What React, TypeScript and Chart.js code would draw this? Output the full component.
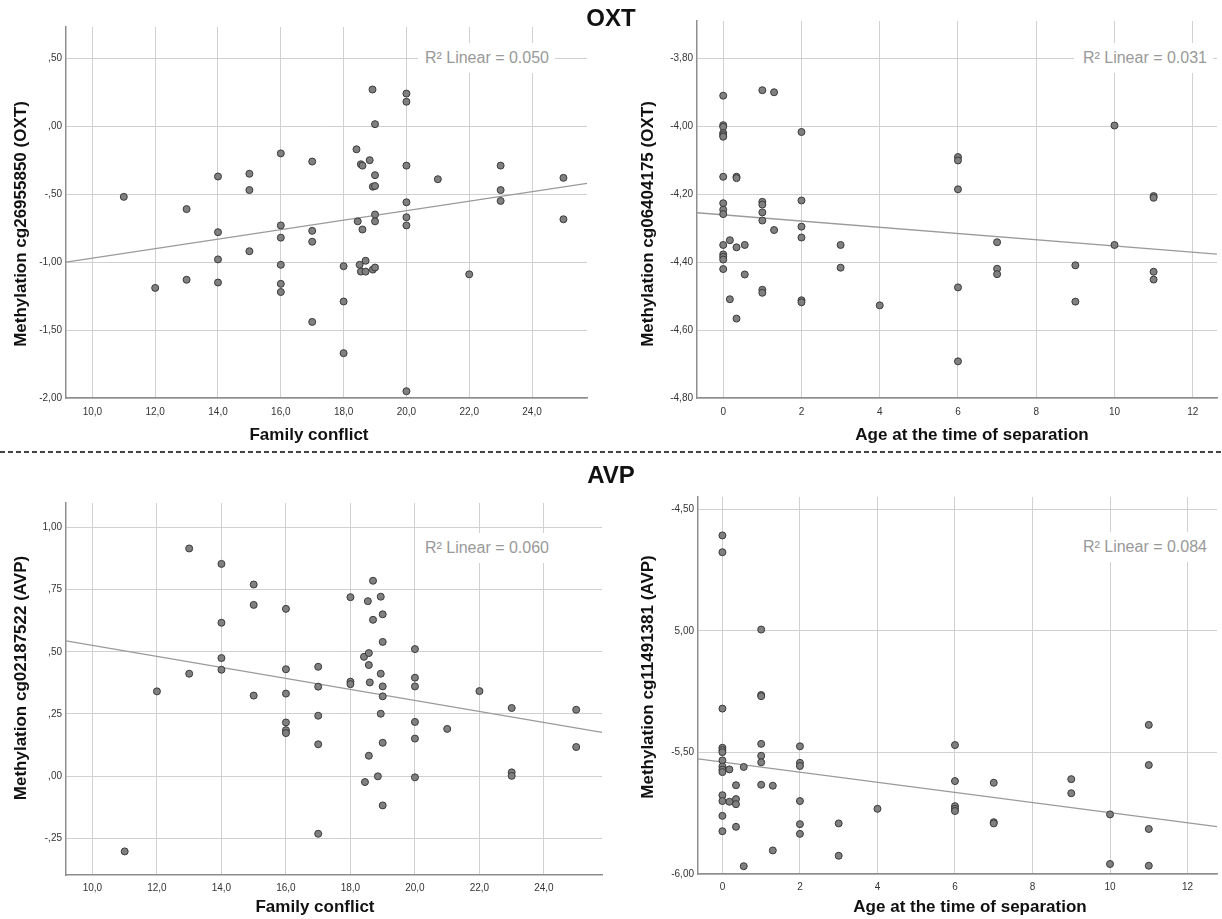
import React, { useEffect, useRef } from 'react';
import { Chart, registerables } from 'chart.js';

Chart.register(...registerables);

// ---------- Tick values and labels ----------
const conflictTicks = [10, 12, 14, 16, 18, 20, 22, 24];
const conflictTickLabels = ['10,0', '12,0', '14,0', '16,0', '18,0', '20,0', '22,0', '24,0'];
const ageTicks = [0, 2, 4, 6, 8, 10, 12];
const ageTickLabels = ['0', '2', '4', '6', '8', '10', '12'];

const oxtConflictYTicks = [-2, -1.5, -1, -0.5, 0, 0.5];
const oxtConflictYLabels = ['-2,00', '-1,50', '-1,00', '-,50', ',00', ',50'];
const oxtAgeYTicks = [-4.8, -4.6, -4.4, -4.2, -4.0, -3.8];
const oxtAgeYLabels = ['-4,80', '-4,60', '-4,40', '-4,20', '-4,00', '-3,80'];
const avpConflictYTicks = [-0.25, 0, 0.25, 0.5, 0.75, 1.0];
const avpConflictYLabels = ['-,25', ',00', ',25', ',50', ',75', '1,00'];
const avpAgeYTicks = [-6, -5.5, -5, -4.5];
const avpAgeYLabels = ['-6,00', '-5,50', '5,00', '-4,50'];

// ---------- Data: OXT vs family conflict ----------
const oxtConflictX = [11, 12, 13, 13, 14, 14, 14, 14, 15, 15, 15, 16, 16, 16, 16, 16, 16, 17, 17, 17, 17, 18, 18, 18,
  18.41, 18.45, 18.51, 18.55, 18.55, 18.6, 18.6, 18.7, 18.7, 18.83, 18.92, 18.93, 18.93,
  19, 19, 19, 19, 19, 19, 20, 20, 20, 20, 20, 20, 20, 21, 22, 23, 23, 23, 25, 25];
const oxtConflictY = [-0.52, -1.19, -0.61, -1.13, -0.37, -0.78, -0.98, -1.15, -0.35, -0.47, -0.92,
  -0.20, -0.73, -0.82, -1.02, -1.16, -1.22, -0.26, -0.77, -0.85, -1.44, -1.03, -1.29, -1.67,
  -0.17, -0.70, -1.02, -0.28, -1.07, -0.29, -0.76, -0.99, -1.07, -0.25, 0.27, -0.445, -1.055,
  0.015, -0.36, -0.44, -0.65, -0.70, -1.04, 0.24, 0.18, -0.29, -0.56, -0.67, -0.73, -1.95,
  -0.39, -1.09, -0.29, -0.47, -0.55, -0.38, -0.685];
const oxtConflictFitX = [9.16, 25.75];
const oxtConflictFitY = [-1.0, -0.42];

// ---------- Data: OXT vs age at separation ----------
const oxtAgeX = [0, 0, 0, 0, 0, 0, 0, 0, 0, 0, 0, 0, 0, 0, 0, 0.17, 0.17, 0.34, 0.34, 0.34, 0.34, 0.55, 0.55,
  1, 1, 1, 1, 1, 1, 1, 1.3, 1.3, 2, 2, 2, 2, 2, 2, 3, 3, 4, 6, 6, 6, 6, 6, 7, 7, 7, 9, 9, 10, 10, 11, 11, 11, 11];
const oxtAgeY = [-3.909, -3.996, -4.001, -4.019, -4.025, -4.03, -4.148, -4.226, -4.245, -4.258, -4.349, -4.377,
  -4.384, -4.392, -4.42, -4.335, -4.509, -4.148, -4.152, -4.356, -4.566, -4.349, -4.436,
  -3.893, -4.222, -4.23, -4.253, -4.277, -4.481, -4.49, -3.899, -4.305,
  -4.016, -4.218, -4.295, -4.327, -4.512, -4.518, -4.349, -4.416, -4.527,
  -4.09, -4.10, -4.185, -4.474, -4.692, -4.341, -4.419, -4.435, -4.409, -4.516,
  -3.997, -4.349, -4.205, -4.21, -4.428, -4.451];
const oxtAgeFitX = [-0.67, 12.62];
const oxtAgeFitY = [-4.254, -4.376];

// ---------- Data: AVP vs family conflict ----------
const avpConflictX = [11, 12, 13, 13, 14, 14, 14, 14, 15, 15, 15, 16, 16, 16, 16, 16, 16, 17, 17, 17, 17, 17,
  18, 18, 18, 18.42, 18.45, 18.54, 18.57, 18.57, 18.57, 18.6, 18.7, 18.7, 18.85, 18.94, 18.94, 18.94,
  19, 19, 19, 19, 19, 19, 20, 20, 20, 20, 20, 20, 21, 22, 23, 23, 23, 25, 25];
const avpConflictY = [-0.303, 0.341, 0.916, 0.412, 0.854, 0.617, 0.475, 0.428, 0.771, 0.689, 0.324,
  0.673, 0.43, 0.332, 0.216, 0.185, 0.173, 0.44, 0.36, 0.243, 0.128, -0.232,
  0.72, 0.38, 0.37, 0.48, -0.024, 0.704, 0.495, 0.447, 0.082, 0.377, 0.786, 0.629, -0.001, 0.722, 0.412, 0.251,
  0.651, 0.54, 0.361, 0.321, 0.134, -0.118, 0.511, 0.396, 0.361, 0.218, 0.151, -0.005,
  0.19, 0.342, 0.274, 0.015, 0.001, 0.267, 0.117];
const avpConflictFitX = [9.18, 25.8];
const avpConflictFitY = [0.544, 0.176];

// ---------- Data: AVP vs age at separation ----------
const avpAgeX = [0, 0, 0, 0, 0, 0, 0, 0, 0, 0, 0, 0, 0, 0, 0.18, 0.18, 0.35, 0.35, 0.35, 0.35, 0.55, 0.55,
  1, 1, 1, 1, 1, 1, 1, 1.3, 1.3, 2, 2, 2, 2, 2, 2, 3, 3, 4, 6, 6, 6, 6, 6, 7, 7, 7, 9, 9, 10, 10, 11, 11, 11, 11];
const avpAgeY = [-4.608, -4.677, -5.32, -5.481, -5.49, -5.499, -5.533, -5.558, -5.571, -5.581, -5.676, -5.70,
  -5.761, -5.824, -5.57, -5.703, -5.635, -5.692, -5.713, -5.806, -5.56, -5.968,
  -4.995, -5.264, -5.269, -5.465, -5.514, -5.541, -5.633, -5.637, -5.903,
  -5.475, -5.543, -5.556, -5.70, -5.795, -5.835, -5.792, -5.925, -5.732,
  -5.47, -5.618, -5.721, -5.732, -5.741, -5.625, -5.787, -5.792, -5.61, -5.668,
  -5.755, -5.959, -5.387, -5.552, -5.815, -5.966];
const avpAgeFitX = [-0.63, 12.76];
const avpAgeFitY = [-5.527, -5.805];

// ---------- Rendering ----------
const FONT = "'Liberation Sans', Arial, Helvetica, sans-serif";

const axisTitlePlugin = {
  id: 'axisTitles',
  afterDraw(chart: any, _args: any, opts: any) {
    const ctx = chart.ctx;
    ctx.save();
    ctx.font = `bold 17px ${FONT}`;
    ctx.fillStyle = '#111';
    ctx.textAlign = 'center';
    ctx.textBaseline = 'middle';
    ctx.fillText(opts.xTitle, opts.xTitleX, opts.xTitleY);
    ctx.translate(opts.yTitleX, opts.yTitleY);
    ctx.rotate(-Math.PI / 2);
    ctx.fillText(opts.yTitle, 0, 0);
    ctx.restore();
  },
};

type PanelProps = {
  left: number; top: number; width: number; height: number;
  xs: number[]; ys: number[]; fitX: number[]; fitY: number[];
  xMin: number; xMax: number; yMin: number; yMax: number;
  xTicks: number[]; xTickLabels: string[]; yTicks: number[]; yTickLabels: string[];
  padTop: number; padRight: number; yAxisWidth: number; xAxisHeight: number; xTickPad: number;
  xTitle: string; yTitle: string; xTitleX: number; xTitleY: number; yTitleX: number; yTitleY: number;
};

function Panel(p: PanelProps) {
  const ref = useRef<HTMLCanvasElement | null>(null);
  useEffect(() => {
    if (!ref.current) return;
    const points = p.xs.map((x, i) => ({ x, y: p.ys[i] }));
    const fit = p.fitX.map((x, i) => ({ x, y: p.fitY[i] }));
    const gridColor = '#d0d0d0';
    const chart = new Chart(ref.current, {
      type: 'scatter',
      data: {
        datasets: [
          {
            type: 'scatter',
            data: points,
            pointRadius: 3.5,
            pointBackgroundColor: '#808080',
            pointBorderColor: '#3a3a3a',
            pointBorderWidth: 1,
          } as any,
          {
            type: 'line',
            data: fit,
            borderColor: '#9a9a9a',
            borderWidth: 1.3,
            pointRadius: 0,
            fill: false,
          } as any,
        ],
      },
      options: {
        animation: false,
        responsive: false,
        events: [],
        layout: { padding: { top: p.padTop, right: p.padRight, left: 0, bottom: 0 } },
        plugins: {
          legend: { display: false },
          tooltip: { enabled: false },
          axisTitles: {
            xTitle: p.xTitle, yTitle: p.yTitle,
            xTitleX: p.xTitleX, xTitleY: p.xTitleY, yTitleX: p.yTitleX, yTitleY: p.yTitleY,
          },
        } as any,
        scales: {
          x: {
            type: 'linear',
            min: p.xMin,
            max: p.xMax,
            afterBuildTicks: (scale: any) => { scale.ticks = p.xTicks.map((v) => ({ value: v })); },
            afterFit: (scale: any) => { scale.height = p.xAxisHeight; },
            ticks: {
              autoSkip: false,
              maxRotation: 0,
              padding: p.xTickPad,
              color: '#333',
              font: { family: FONT, size: 10 },
              callback: (_v: any, i: number) => p.xTickLabels[i],
            },
            grid: { color: gridColor, lineWidth: 1, drawTicks: false },
            border: { color: '#8e8e8e', width: 1.5 },
          },
          y: {
            type: 'linear',
            min: p.yMin,
            max: p.yMax,
            afterBuildTicks: (scale: any) => { scale.ticks = p.yTicks.map((v) => ({ value: v })); },
            afterFit: (scale: any) => { scale.width = p.yAxisWidth; },
            ticks: {
              autoSkip: false,
              padding: 4,
              color: '#333',
              font: { family: FONT, size: 10 },
              callback: (_v: any, i: number) => p.yTickLabels[i],
            },
            grid: { color: gridColor, lineWidth: 1, drawTicks: false },
            border: { color: '#8e8e8e', width: 1.5 },
          },
        },
      } as any,
      plugins: [axisTitlePlugin as any],
    });
    return () => chart.destroy();
  }, []);
  return (
    <canvas
      ref={ref}
      width={p.width}
      height={p.height}
      style={{ position: 'absolute', left: p.left, top: p.top, width: p.width, height: p.height }}
    />
  );
}

const r2Style = (left: number, top: number, width: number): React.CSSProperties => ({
  position: 'absolute',
  left,
  top,
  width,
  height: 30,
  lineHeight: '30px',
  background: '#fff',
  color: '#999',
  fontFamily: FONT,
  fontSize: 16,
  textAlign: 'right',
  paddingRight: 6,
  boxSizing: 'border-box',
  whiteSpace: 'nowrap',
});

const headStyle = (top: number): React.CSSProperties => ({
  position: 'absolute',
  left: 0,
  width: 1222,
  top,
  textAlign: 'center',
  fontFamily: FONT,
  fontWeight: 'bold',
  fontSize: 24,
  lineHeight: '28px',
  color: '#111',
});

export default function App() {
  return (
    <div style={{ position: 'absolute', left: 0, top: 0, width: 1222, height: 919, background: '#fff', overflow: 'hidden' }}>
      <Panel
        left={0} top={0} width={600} height={450}
        xs={oxtConflictX} ys={oxtConflictY} fitX={oxtConflictFitX} fitY={oxtConflictFitY}
        xMin={9.16} xMax={25.75} yMin={-2.0} yMax={0.73}
        xTicks={conflictTicks} xTickLabels={conflictTickLabels} yTicks={oxtConflictYTicks} yTickLabels={oxtConflictYLabels}
        padTop={27} padRight={13} yAxisWidth={66} xAxisHeight={52} xTickPad={8}
        xTitle="Family conflict" yTitle="Methylation cg26955850 (OXT)"
        xTitleX={309} xTitleY={435} yTitleX={21} yTitleY={224}
      />
      <Panel
        left={610} top={0} width={612} height={450}
        xs={oxtAgeX} ys={oxtAgeY} fitX={oxtAgeFitX} fitY={oxtAgeFitY}
        xMin={-0.67} xMax={12.62} yMin={-4.8} yMax={-3.689}
        xTicks={ageTicks} xTickLabels={ageTickLabels} yTicks={oxtAgeYTicks} yTickLabels={oxtAgeYLabels}
        padTop={21} padRight={0} yAxisWidth={87} xAxisHeight={52} xTickPad={8}
        xTitle="Age at the time of separation" yTitle="Methylation cg06404175 (OXT)"
        xTitleX={362} xTitleY={435} yTitleX={38} yTitleY={224}
      />
      <Panel
        left={0} top={460} width={610} height={459}
        xs={avpConflictX} ys={avpConflictY} fitX={avpConflictFitX} fitY={avpConflictFitY}
        xMin={9.18} xMax={25.8} yMin={-0.398} yMax={1.099}
        xTicks={conflictTicks} xTickLabels={conflictTickLabels} yTicks={avpConflictYTicks} yTickLabels={avpConflictYLabels}
        padTop={43} padRight={8} yAxisWidth={66} xAxisHeight={44} xTickPad={7}
        xTitle="Family conflict" yTitle="Methylation cg02187522 (AVP)"
        xTitleX={315} xTitleY={447} yTitleX={21} yTitleY={218}
      />
      <Panel
        left={610} top={460} width={612} height={459}
        xs={avpAgeX} ys={avpAgeY} fitX={avpAgeFitX} fitY={avpAgeFitY}
        xMin={-0.63} xMax={12.76} yMin={-6.0} yMax={-4.45}
        xTicks={ageTicks} xTickLabels={ageTickLabels} yTicks={avpAgeYTicks} yTickLabels={avpAgeYLabels}
        padTop={37} padRight={0} yAxisWidth={88} xAxisHeight={45} xTickPad={7}
        xTitle="Age at the time of separation" yTitle="Methylation cg11491381 (AVP)"
        xTitleX={360} xTitleY={447} yTitleX={38} yTitleY={217}
      />

      <div style={r2Style(418, 43, 137)}>R² Linear = 0.050</div>
      <div style={r2Style(1074, 43, 139)}>R² Linear = 0.031</div>
      <div style={r2Style(416, 533, 139)}>R² Linear = 0.060</div>
      <div style={r2Style(1074, 532, 139)}>R² Linear = 0.084</div>

      <div style={headStyle(4)}>OXT</div>
      <div
        style={{
          position: 'absolute', left: 0, top: 451, width: 1222, height: 2,
          background: 'repeating-linear-gradient(to right, #444 0px, #444 5px, transparent 5px, transparent 8px)',
        }}
      />
      <div style={headStyle(461)}>AVP</div>
    </div>
  );
}
